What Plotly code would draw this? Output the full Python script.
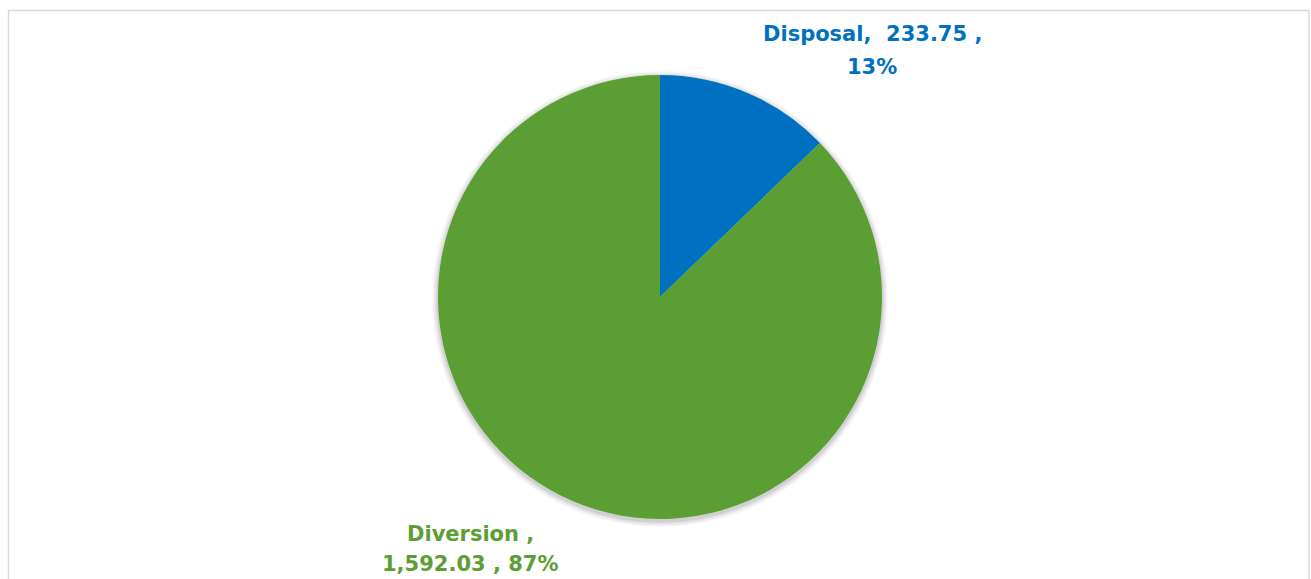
import plotly.graph_objects as go

labels = ["Disposal", "Diversion"]
values = [233.75, 1592.03]
colors = ["#0070C0", "#5B9E33"]

W, H = 1311, 579
CX, CY, R = 660, 297, 222
total = sum(values)
pcts = [round(v / total * 100) for v in values]

fig = go.Figure()
fig.add_trace(go.Pie(
    labels=labels, values=values, sort=False, direction="clockwise", rotation=0,
    marker=dict(colors=colors, line=dict(width=0)),
    textinfo="none", hoverinfo="label+value+percent", showlegend=False,
    domain=dict(x=[(CX - R) / W, (CX + R) / W], y=[1 - (CY + R) / H, 1 - (CY - R) / H]),
))

# soft shadow behind the pie
for d, op in [(6, 0.03), (4.5, 0.04), (3, 0.05), (1.5, 0.07)]:
    cy = CY + 2
    fig.add_shape(type="circle", xref="paper", yref="paper", layer="below",
                  x0=(CX - R - d) / W, x1=(CX + R + d) / W,
                  y0=1 - (cy + R + d) / H, y1=1 - (cy - R - d) / H,
                  fillcolor="black", opacity=op, line=dict(width=0))

font = "'DejaVu Sans', sans-serif"

def add_line(text, x, y, color):
    fig.add_annotation(
        x=x / W, y=1 - y / H, xref="paper", yref="paper", showarrow=False,
        xanchor="center", yanchor="middle",
        text=f"<b>{text}</b>", font=dict(family=font, size=21, color=color),
    )

add_line(f"{labels[0]},  {values[0]:,.2f} ,", 872, 34, colors[0])
add_line(f"{pcts[0]}%", 872, 67, colors[0])
add_line(f"{labels[1]} ,", 470, 534, colors[1])
add_line(f"{values[1]:,.2f} , {pcts[1]}%", 470, 564, colors[1])

fig.add_shape(type="rect", xref="paper", yref="paper",
              x0=8.5 / W, x1=1309 / W, y0=-0.05, y1=1 - 10.5 / H,
              line=dict(color="#D9D9D9", width=1.5), layer="below")

fig.update_layout(width=W, height=H, margin=dict(l=0, r=0, t=0, b=0),
                  paper_bgcolor="white", plot_bgcolor="white")
fig.write_html("out.html")
